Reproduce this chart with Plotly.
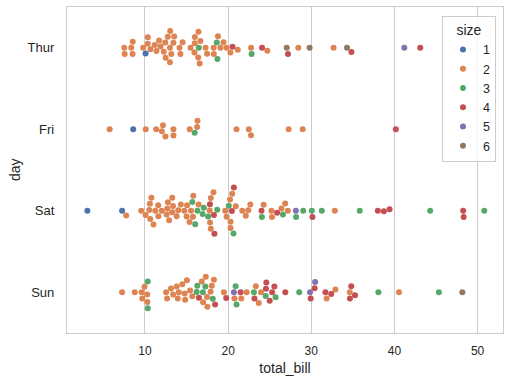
import numpy as np
import plotly.graph_objects as go

# ---------------- data (tips dataset, by day, in row order) ----------------
days = ["Thur", "Fri", "Sat", "Sun"]

thur_bill = [27.20, 22.76, 17.29, 19.44, 16.66, 10.07, 32.68, 15.98, 34.83, 13.03, 18.28, 24.71, 21.16,
             10.65, 12.43, 24.08, 11.69, 13.42, 14.26, 15.95, 12.48, 29.80, 8.52, 14.52, 11.38, 22.82,
             19.08, 20.27, 11.17, 12.26, 18.26, 8.51, 10.33, 14.15, 16.00, 13.16, 17.47, 34.30, 41.19,
             27.05, 16.43, 8.35, 18.64, 11.87, 9.78, 7.51, 19.81, 28.44, 15.48, 16.58, 7.56, 10.34,
             43.11, 13.00, 13.51, 18.71, 12.74, 13.00, 16.40, 20.53, 16.47, 18.78]
thur_size = [4, 2, 2, 2, 2, 1, 2, 2, 4, 2, 2, 2, 2,
             2, 2, 4, 2, 2, 2, 2, 2, 6, 2, 2, 2, 3,
             2, 2, 2, 2, 2, 2, 2, 2, 2, 2, 2, 6, 5,
             6, 2, 2, 3, 2, 2, 2, 2, 2, 2, 2, 2, 2,
             4, 2, 2, 3, 2, 2, 2, 4, 3, 2]

fri_bill = [28.97, 22.49, 5.75, 16.32, 22.75, 40.17, 27.28, 12.03, 21.01, 12.46, 11.35, 15.38,
            12.16, 13.42, 8.58, 15.98, 13.42, 16.27, 10.09]
fri_size = [2, 2, 2, 2, 2, 4, 2, 2, 2, 2, 2, 2,
            2, 2, 1, 3, 2, 2, 2]

sat_bill = [20.65, 17.92, 20.29, 15.77, 39.42, 19.82, 17.81, 13.37, 12.69, 21.70, 19.65, 9.55,
            18.35, 15.06, 20.69, 17.78, 24.06, 16.31, 16.93, 18.69, 31.27, 16.04,
            38.01, 26.41, 11.24, 48.27, 20.29, 13.81, 11.02, 18.29, 17.59, 20.08, 16.45, 3.07,
            20.23, 15.01, 12.02, 17.07, 26.86, 25.28, 14.73, 10.51, 17.92,
            44.30, 22.42, 20.92, 15.36, 20.49, 25.21, 18.24, 14.31, 14.00, 7.25,
            10.59, 10.63, 50.81, 15.81,
            26.59, 38.73, 24.27, 12.76, 30.06, 25.89, 48.33, 13.27, 28.17, 12.90, 28.15, 11.59,
            7.74, 30.14,
            20.45, 13.28, 22.12, 24.01, 15.69, 11.61, 10.77, 15.53, 10.07, 12.60, 32.83, 35.83,
            29.03, 27.18, 22.67, 17.82]
sat_size = [3, 2, 2, 2, 4, 2, 4, 2, 2, 2, 2, 2,
            4, 2, 4, 2, 3, 3, 3, 3, 3, 3,
            4, 2, 2, 4, 2, 2, 2, 4, 3, 3, 2, 1,
            2, 2, 2, 3, 2, 2, 2, 2, 2,
            3, 2, 2, 2, 2, 2, 2, 2, 2, 1,
            2, 2, 3, 2,
            3, 4, 2, 2, 3, 4, 4, 2, 3, 2, 5, 2,
            2, 4,
            4, 2, 2, 4, 3, 2, 2, 2, 2, 2, 2, 3,
            3, 2, 2, 2]

sun_bill = [16.99, 10.34, 21.01, 23.68, 24.59, 25.29, 8.77, 26.88, 15.04, 14.78, 10.27, 35.26,
            15.42, 18.43, 14.83, 21.58, 10.33, 16.29, 16.97,
            17.46, 13.94, 9.68, 30.40, 18.29, 22.23, 32.40, 28.55, 18.04, 12.54, 10.29, 34.81,
            9.94, 25.56, 19.49,
            38.07, 23.95, 25.71, 17.31, 29.93,
            14.07, 13.13, 17.26, 24.55, 19.77, 29.85, 48.17, 25.00, 13.39, 16.49, 21.50, 12.66,
            16.21, 13.81, 17.51, 24.52, 20.76, 31.71,
            7.25, 31.85, 16.82, 32.90, 17.89, 14.48, 9.60, 34.63, 34.65, 23.33, 45.35, 23.17,
            40.55, 20.69, 20.90, 30.46, 18.15, 23.10, 15.69]
sun_size = [2, 3, 3, 2, 4, 4, 2, 4, 2, 2, 2, 4,
            2, 4, 2, 2, 3, 3, 3,
            2, 2, 2, 4, 2, 2, 4, 3, 2, 2, 2, 4,
            2, 4, 2,
            3, 2, 3, 2, 4,
            2, 2, 3, 4, 4, 5, 6, 4, 2, 4, 4, 2,
            3, 2, 2, 3, 2, 4,
            2, 2, 2, 2, 2, 2, 2, 2, 4, 2, 3, 4,
            2, 5, 3, 5, 3, 3, 2]

size_levels = [1, 2, 3, 4, 5, 6]
palette = ["#4c72b0", "#dd8452", "#55a868", "#c44e52", "#8172b3", "#937860"]

# ---------------- layout geometry ----------------
W, H = 512, 385
ML, MR, MT, MB = 67, 9, 7, 52
plot_w = W - ML - MR
plot_h = H - MT - MB
x_range = [0.62, 53.06]
ppu = plot_w / (x_range[1] - x_range[0])      # px per total_bill unit
ppc = plot_h / len(days)                        # px per category
R = 3.0                                          # marker radius in px


def beeswarm(values):
    """seaborn-style beeswarm; returns offsets in px (positive = down)."""
    vals = np.asarray(values, dtype=float)
    order = np.argsort(vals, kind="mergesort")
    placed = []
    offs = np.zeros(len(vals))
    for idx in order:
        v = vals[idx] * ppu
        neigh = []
        for o, vj in reversed(placed):
            if v - vj < 2 * R:
                neigh.append((o, vj))
            else:
                break
        neigh = neigh[::-1]
        cands = [0.0]
        left = True
        for o, vj in neigh:
            dy = v - vj
            dx = np.sqrt(max(4 * R * R - dy * dy, 0.0)) * 1.05
            cl, cr = o + dx, o - dx
            cands += [cl, cr] if left else [cr, cl]
            left = not left
        cands = sorted(cands, key=abs)
        chosen = cands[0]
        for c in cands:
            if all((c - o) ** 2 + (v - vj) ** 2 >= 4 * R * R for o, vj in neigh):
                chosen = c
                break
        placed.append((chosen, v))
        offs[idx] = chosen
    return offs


bills = [thur_bill, fri_bill, sat_bill, sun_bill]
sizes = [thur_size, fri_size, sat_size, sun_size]

all_x, all_y, all_s = [], [], []
for di, (b, s) in enumerate(zip(bills, sizes)):
    offs = beeswarm(b)
    all_x += list(b)
    all_y += list(di + offs / ppc)
    all_s += list(s)
all_x = np.array(all_x)
all_y = np.array(all_y)
all_s = np.array(all_s)

fig = go.Figure()
for lvl, col in zip(size_levels, palette):
    m = all_s == lvl
    fig.add_trace(go.Scatter(
        x=all_x[m], y=all_y[m], mode="markers", name=str(lvl),
        marker=dict(size=2 * R, color=col, line=dict(width=0)),
    ))

FONT = "Liberation Sans, Arial, sans-serif"
TXT = "#262626"
fig.update_layout(
    width=W, height=H,
    margin=dict(l=ML, r=MR, t=MT, b=MB, pad=0),
    paper_bgcolor="white", plot_bgcolor="white",
    font=dict(family=FONT, color=TXT, size=12),
    showlegend=True,
    legend=dict(
        x=(442 - ML) / plot_w, y=(H - MB - 15.7) / plot_h,
        xanchor="left", yanchor="top",
        bgcolor="rgba(255,255,255,0.8)", bordercolor="#cccccc", borderwidth=1,
        font=dict(size=12.5, color=TXT),
        title=dict(text="size", side="top center", font=dict(size=14, color=TXT)),
        itemwidth=30,
    ),
    xaxis=dict(
        range=x_range, tickvals=[10, 20, 30, 40, 50],
        showgrid=True, gridcolor="#cccccc", gridwidth=1, zeroline=False,
        showline=True, mirror=True, linecolor="#cccccc", linewidth=1.25,
        ticks="outside", ticklen=6, tickcolor="rgba(0,0,0,0)",
        tickfont=dict(size=12, color=TXT),
        title=dict(text="total_bill", font=dict(size=14, color=TXT), standoff=6),
    ),
    yaxis=dict(
        range=[3.5, -0.5], tickvals=[0, 1, 2, 3], ticktext=days,
        showgrid=False, zeroline=False,
        showline=True, mirror=True, linecolor="#cccccc", linewidth=1.25,
        ticks="outside", ticklen=9, tickcolor="rgba(0,0,0,0)",
        tickfont=dict(size=13, color=TXT),
    ),
    annotations=[dict(
        text="day", textangle=-90, xref="paper", yref="paper",
        x=(15 - ML) / plot_w, y=0.5, xanchor="center", yanchor="middle",
        showarrow=False, font=dict(size=14, color=TXT),
    )],
)

fig.write_html("out.html", config={"displayModeBar": False},
               post_script="document.body.style.margin='0';")
